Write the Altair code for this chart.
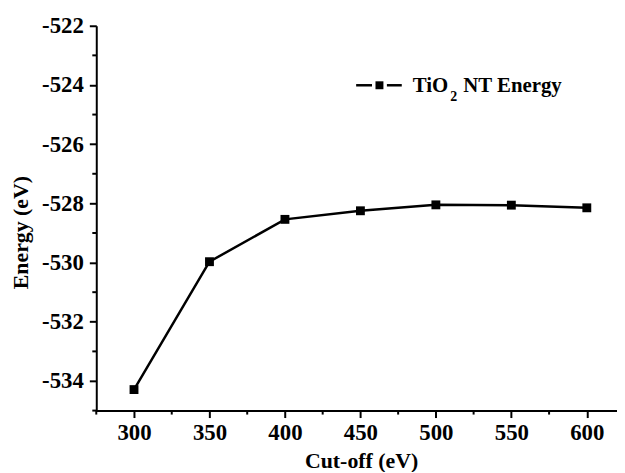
import altair as alt
import pandas as pd

cutoff = [300, 350, 400, 450, 500, 550, 600]
energy = [-534.29, -529.97, -528.54, -528.25, -528.05, -528.06, -528.15]

x_major = [300, 350, 400, 450, 500, 550, 600]
x_minor = [275, 325, 375, 425, 475, 525, 575]
y_major = [-534, -532, -530, -528, -526, -524, -522]
y_minor = [-535, -533, -531, -529, -527, -525, -523]

df = pd.DataFrame({"cutoff": cutoff, "energy": energy})
xm_df = pd.DataFrame({"cutoff": x_minor})
ym_df = pd.DataFrame({"energy": y_minor})

FONT = "Liberation Serif"
H = 388

x_enc = alt.X(
    "cutoff:Q",
    scale=alt.Scale(domain=[275, 620], nice=False, zero=False),
    axis=alt.Axis(
        title="Cut-off (eV)",
        values=x_major,
        labelExpr="'' + datum.value",
        tickSize=7,
        labelFont=FONT,
        labelFontWeight="bold",
        labelFontSize=23,
        labelPadding=4,
        labelOverlap=False,
        titleFont=FONT,
        titleFontWeight="bold",
        titleFontSize=22,
        titleX=267,
        titleY=57,
        titleBaseline="alphabetic",
    ),
)
y_enc = alt.Y(
    "energy:Q",
    scale=alt.Scale(domain=[-535, -522], nice=False, zero=False),
    axis=alt.Axis(
        title="Energy (eV)",
        values=y_major,
        labelExpr="'' + datum.value",
        tickSize=7,
        labelFont=FONT,
        labelFontWeight="bold",
        labelFontSize=23,
        labelPadding=6,
        labelOverlap=False,
        titleFont=FONT,
        titleFontWeight="bold",
        titleFontSize=22,
        titleX=-76,
        titleY=208,
        titleBaseline="middle",
    ),
)

base = alt.Chart(df)
line = base.mark_line(color="black", strokeWidth=2.5).encode(x=x_enc, y=y_enc)
pts = base.mark_point(shape="square", filled=True, size=80, color="black", opacity=1).encode(
    x="cutoff:Q", y="energy:Q"
)

xminor = alt.Chart(xm_df).mark_rule(color="black", strokeWidth=2).encode(
    x="cutoff:Q", y=alt.value(H), y2=alt.value(H + 4)
)
yminor = alt.Chart(ym_df).mark_rule(color="black", strokeWidth=2).encode(
    y="energy:Q", x=alt.value(-4), x2=alt.value(0)
)

leg_df = pd.DataFrame({"k": [0]})
leg = alt.Chart(leg_df)
leg_l1 = leg.mark_rule(color="black", strokeWidth=2.5).encode(
    x=alt.value(262), x2=alt.value(278), y=alt.value(60)
)
leg_l2 = leg.mark_rule(color="black", strokeWidth=2.5).encode(
    x=alt.value(293), x2=alt.value(308), y=alt.value(60)
)
leg_sq = leg.mark_point(shape="square", filled=True, size=64, color="black", opacity=1).encode(
    x=alt.value(285.5), y=alt.value(60)
)
leg_t1 = leg.mark_text(
    text="TiO", font=FONT, fontWeight="bold", fontSize=21, align="left", baseline="alphabetic", color="black"
).encode(x=alt.value(319), y=alt.value(66.7))
leg_t2 = leg.mark_text(
    text="2", font=FONT, fontWeight="bold", fontSize=14, align="left", baseline="alphabetic", color="black"
).encode(x=alt.value(357), y=alt.value(76))
leg_t3 = leg.mark_text(
    text="NT Energy", font=FONT, fontWeight="bold", fontSize=21, align="left", baseline="alphabetic", color="black"
).encode(x=alt.value(370), y=alt.value(66.7))

chart = (
    alt.layer(line, pts, xminor, yminor, leg_l1, leg_l2, leg_sq, leg_t1, leg_t2, leg_t3)
    .properties(
        width=525,
        height=H,
        autosize=alt.AutoSizeParams(type="none"),
        padding={"left": 89, "top": 16, "right": 0, "bottom": 60},
        background="white",
    )
    .configure_view(stroke=None)
    .configure_axis(
        grid=False,
        domainColor="black",
        domainWidth=2,
        tickColor="black",
        tickWidth=2,
        labelColor="black",
        titleColor="black",
    )
)

chart.save("out.html", embed_options={"renderer": "svg", "actions": False})
